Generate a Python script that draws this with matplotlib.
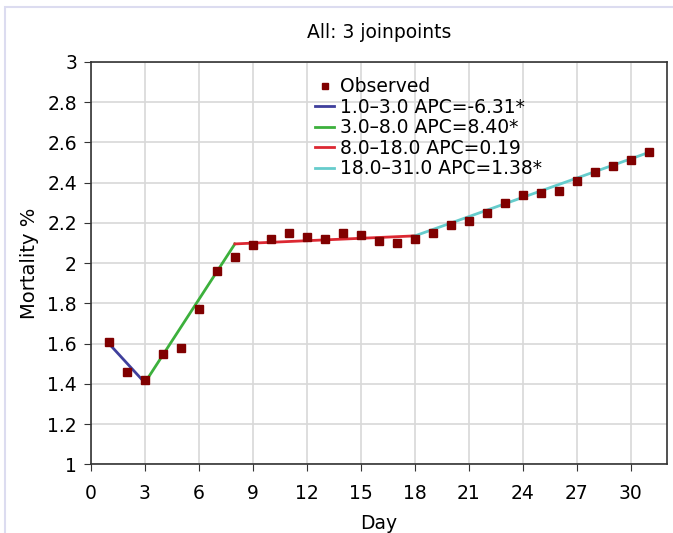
import matplotlib
matplotlib.use('Agg')
import matplotlib.pyplot as plt
from matplotlib.patches import Rectangle
import numpy as np

plt.rcParams['font.family'] = ['DejaVu Sans']

days = np.arange(1, 32)
observed = [1.61, 1.46, 1.42, 1.55, 1.58, 1.77, 1.96, 2.03, 2.09, 2.12,
            2.15, 2.13, 2.12, 2.15, 2.14, 2.11, 2.10, 2.12, 2.15, 2.19,
            2.21, 2.25, 2.30, 2.34, 2.35, 2.36, 2.41, 2.45, 2.48, 2.51, 2.55]

# joinpoint segments: (start, end), fitted values at the ends
seg_x = [(1, 3), (3, 8), (8, 18), (18, 31)]
seg_y = [(1.60, 1.405), (1.405, 2.095), (2.095, 2.135), (2.135, 2.55)]
seg_labels = ['1.0\u20133.0 APC=-6.31*', '3.0\u20138.0 APC=8.40*',
              '8.0\u201318.0 APC=0.19', '18.0\u201331.0 APC=1.38*']
seg_colors = ['#3f3f9c', '#3cb03c', '#dc2832', '#66cccc']

fig = plt.figure(figsize=(6.73, 5.33), dpi=100)
ax = fig.add_axes([0.135, 0.129, 0.856, 0.755])

fig.patches.append(Rectangle((0.008, -0.1), 1.1, 1.087, transform=fig.transFigure,
                             fill=False, edgecolor='#dcdcf0', linewidth=1.5))

ax.plot(days, observed, 's', color='#800000', markersize=6, label='Observed', zorder=4)
for (x0, x1), (y0, y1), lab, c in zip(seg_x, seg_y, seg_labels, seg_colors):
    ax.plot([x0, x1], [y0, y1], color=c, linewidth=2, label=lab, zorder=3)

ax.set_xlim(0, 32)
ax.set_ylim(1, 3)
ax.set_xticks(np.arange(0, 31, 3))
ax.set_yticks(np.arange(1, 3.01, 0.2))
ax.set_yticklabels(['%g' % round(v, 1) for v in np.arange(1, 3.01, 0.2)])
ax.grid(True, color='#d8d8d8', linewidth=1.2)
ax.set_axisbelow(True)
ax.tick_params(labelsize=13.5, length=5, color='#333333', pad=5)
ax.tick_params(axis='x', pad=9)
for s in ax.spines.values():
    s.set_color('#333333')
    s.set_linewidth(1.2)

ax.set_xlabel('Day', fontsize=13.5, labelpad=8)
ax.set_ylabel('Mortality %', fontsize=14, labelpad=6)
ax.set_title('All: 3 joinpoints', fontsize=13.5, pad=17)

leg = ax.legend(loc='upper left', bbox_to_anchor=(0.37, 0.99), frameon=False,
                fontsize=13.5, handlelength=1.0, handletextpad=0.3,
                labelspacing=0.08, borderaxespad=0.2, markerscale=0.8)

fig.savefig('out.png', dpi=100)
